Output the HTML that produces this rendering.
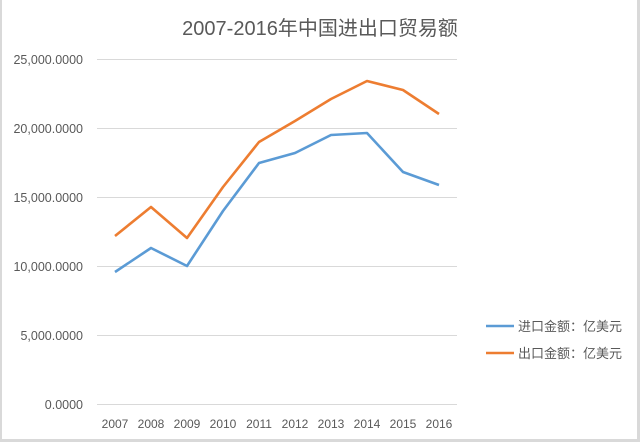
<!DOCTYPE html>
<html><head><meta charset="utf-8"><style>
html,body{margin:0;padding:0;background:#fff;}
svg{display:block;}
text{font-family:"Liberation Sans","Noto Sans CJK SC",sans-serif;fill:#595959;}
</style></head><body>
<svg width="640" height="442" viewBox="0 0 640 442" xmlns="http://www.w3.org/2000/svg">
<rect x="0" y="0" width="640" height="442" fill="#d9d9d9"/>
<rect x="2" y="0" width="635" height="439" fill="#fff"/>
<text x="320" y="35" text-anchor="middle" font-size="20" fill="#595959">2007-2016年中国进出口贸易额</text>
<g stroke="#d9d9d9" stroke-width="1">
<line x1="97" y1="59.5" x2="457" y2="59.5"/>
<line x1="97" y1="128.5" x2="457" y2="128.5"/>
<line x1="97" y1="197.5" x2="457" y2="197.5"/>
<line x1="97" y1="266.5" x2="457" y2="266.5"/>
<line x1="97" y1="335.5" x2="457" y2="335.5"/>
<line x1="97" y1="404.5" x2="457" y2="404.5"/>
</g>
<g font-size="12.5" text-anchor="end">
<text x="83" y="64">25,000.0000</text>
<text x="83" y="133">20,000.0000</text>
<text x="83" y="202">15,000.0000</text>
<text x="83" y="271">10,000.0000</text>
<text x="83" y="340">5,000.0000</text>
<text x="83" y="409">0.0000</text>
</g>
<g font-size="12" text-anchor="middle">
<text x="115" y="428">2007</text><text x="151" y="428">2008</text><text x="187" y="428">2009</text>
<text x="223" y="428">2010</text><text x="259" y="428">2011</text><text x="295" y="428">2012</text>
<text x="331" y="428">2013</text><text x="367" y="428">2014</text><text x="403" y="428">2015</text>
<text x="439" y="428">2016</text>
</g>
<polyline fill="none" stroke="#5B9BD5" stroke-width="2.6" stroke-linejoin="round" points="115,272 151,248 187,266 223,211 259,163 295,153 331,135 367,133 403,172 439,185"/>
<polyline fill="none" stroke="#ED7D31" stroke-width="2.6" stroke-linejoin="round" points="115,236 151,207 187,238 223,187 259,142 295,121 331,99 367,81 403,90 439,114"/>
<line x1="486" y1="326" x2="514" y2="326" stroke="#5B9BD5" stroke-width="2.6"/>
<line x1="486" y1="353" x2="514" y2="353" stroke="#ED7D31" stroke-width="2.6"/>
<g font-size="13">
<text x="518" y="331">进口金额：亿美元</text>
<text x="518" y="358">出口金额：亿美元</text>
</g>
</svg>
</body></html>
